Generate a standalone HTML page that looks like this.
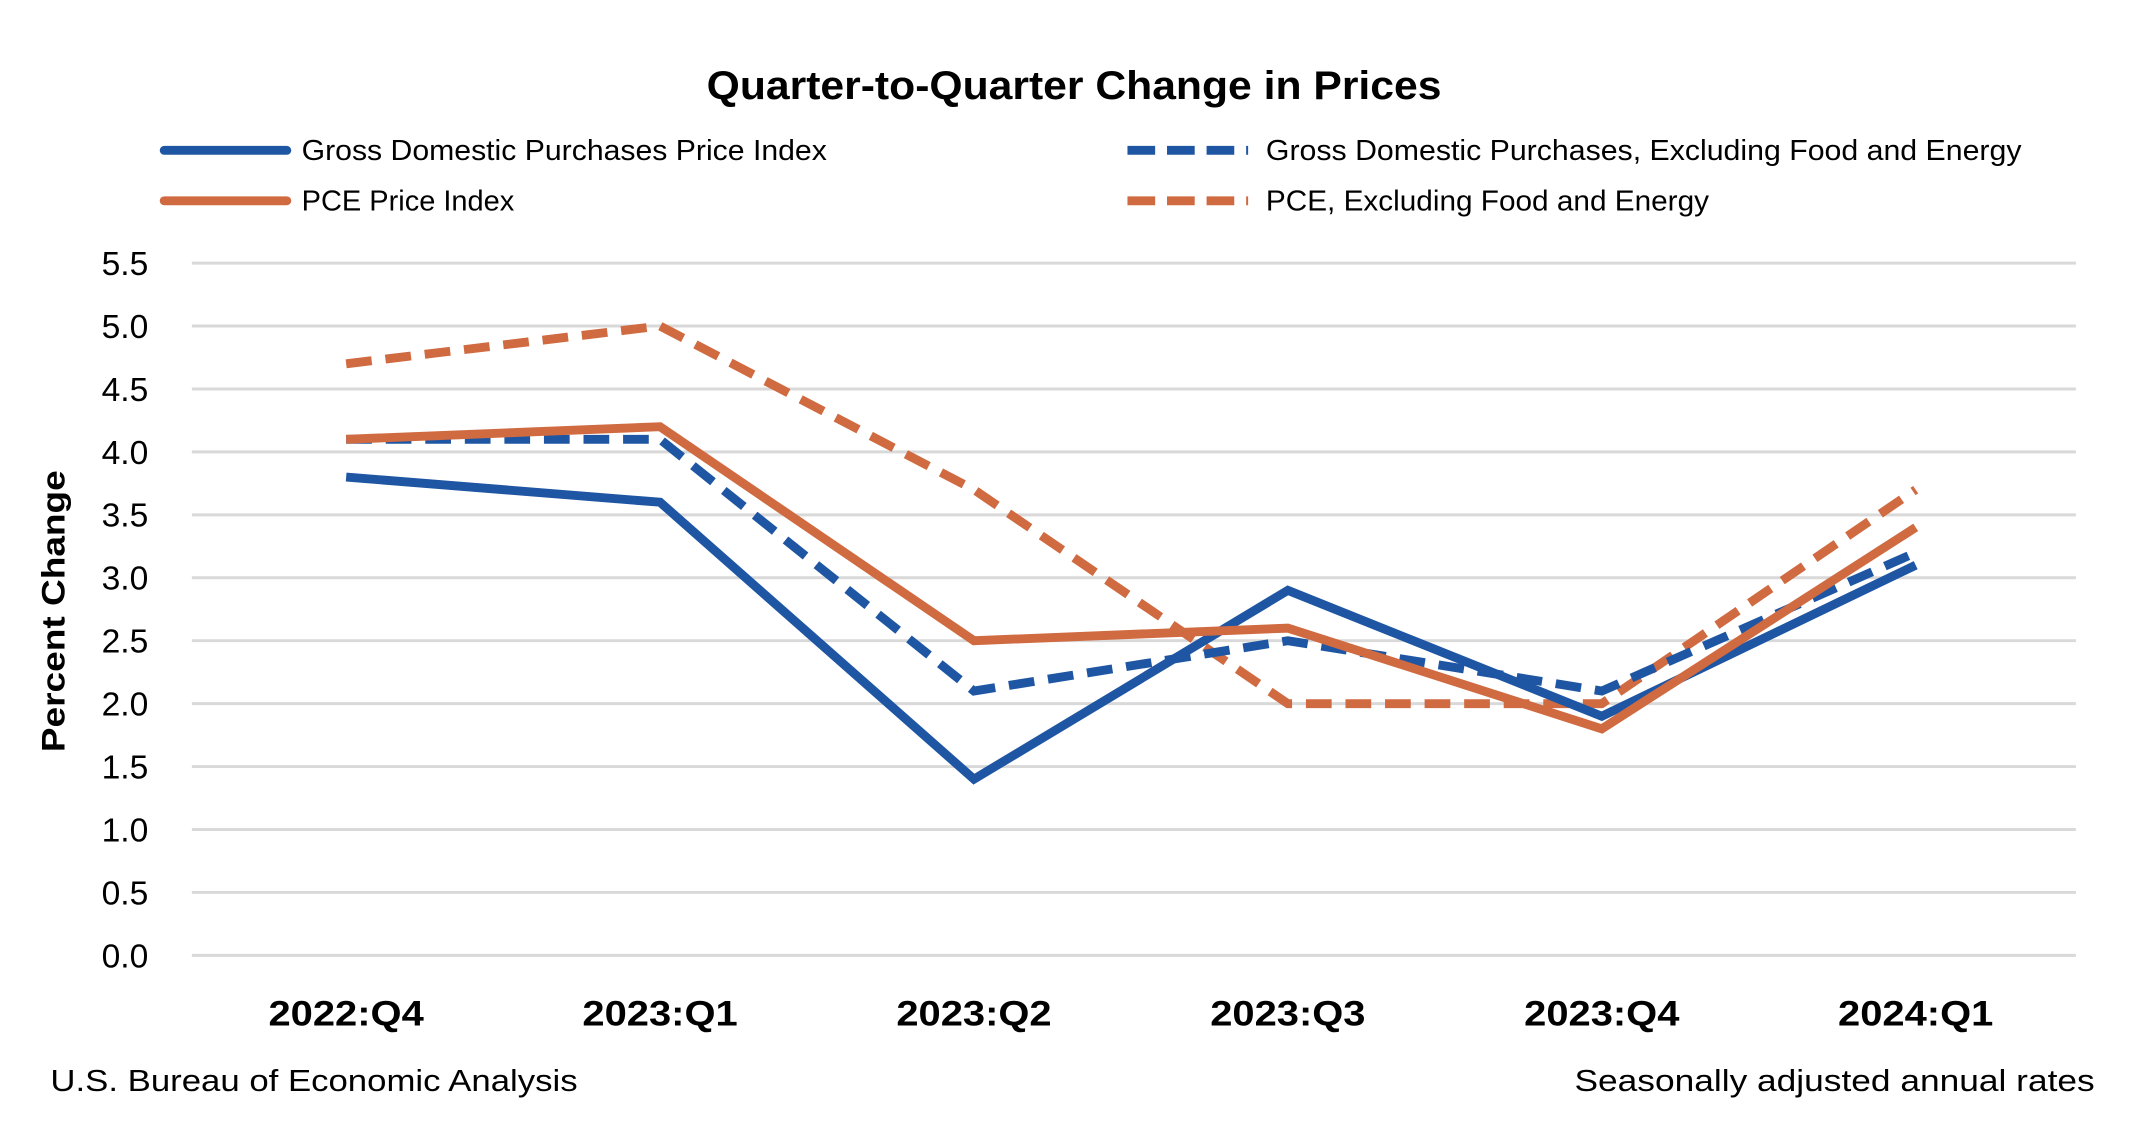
<!DOCTYPE html>
<html><head><meta charset="utf-8"><style>
html,body{margin:0;padding:0;background:#fff;}
svg{display:block;font-family:"Liberation Sans",sans-serif;}
</style></head><body>
<svg id="chart" width="2150" height="1130" viewBox="0 0 2150 1130">
<g transform="translate(0,1) scale(0.989)">
<text x="1086" y="99" text-anchor="middle" font-size="40" font-weight="bold" textLength="743" lengthAdjust="spacingAndGlyphs">Quarter-to-Quarter Change in Prices</text>
<g>
<g><line x1="166" y1="151" x2="290" y2="151" stroke="#1f56a3" stroke-width="9" stroke-linecap="round"/><text x="305" y="161" font-size="29" textLength="531" lengthAdjust="spacingAndGlyphs">Gross Domestic Purchases Price Index</text></g>
<g><line x1="166" y1="202" x2="290" y2="202" stroke="#d06a40" stroke-width="9" stroke-linecap="round"/><text x="305" y="212" font-size="29" textLength="215" lengthAdjust="spacingAndGlyphs">PCE Price Index</text></g>
<g><line x1="1140" y1="151" x2="1262" y2="151" stroke="#1f56a3" stroke-width="9" stroke-dasharray="28 12"/><text x="1280" y="161" font-size="29" textLength="764" lengthAdjust="spacingAndGlyphs">Gross Domestic Purchases, Excluding Food and Energy</text></g>
<g><line x1="1140" y1="202" x2="1262" y2="202" stroke="#d06a40" stroke-width="9" stroke-dasharray="28 12"/><text x="1280" y="212" font-size="29" textLength="448" lengthAdjust="spacingAndGlyphs">PCE, Excluding Food and Energy</text></g>
</g>
<g id="grid"></g><g id="yticks"></g><g id="xticks"></g><g id="series"></g>
<text transform="translate(65,617) rotate(-90)" text-anchor="middle" font-size="33" font-weight="bold" textLength="285" lengthAdjust="spacingAndGlyphs">Percent Change</text>
<text x="51" y="1102" font-size="31" textLength="533" lengthAdjust="spacingAndGlyphs">U.S. Bureau of Economic Analysis</text>
<text x="2118" y="1102" text-anchor="end" font-size="31" textLength="526" lengthAdjust="spacingAndGlyphs">Seasonally adjusted annual rates</text>
</g>
</svg>
<script>
const categories = ["2022:Q4","2023:Q1","2023:Q2","2023:Q3","2023:Q4","2024:Q1"];
const gdpPrice = [3.8, 3.6, 1.4, 2.9, 1.9, 3.1];
const gdpExFoodEnergy = [4.1, 4.1, 2.1, 2.5, 2.1, 3.2];
const pcePrice = [4.1, 4.2, 2.5, 2.6, 1.8, 3.4];
const pceExFoodEnergy = [4.7, 5.0, 3.7, 2.0, 2.0, 3.7];
const yTicks = ["0.0","0.5","1.0","1.5","2.0","2.5","3.0","3.5","4.0","4.5","5.0","5.5"];

const NS = "http://www.w3.org/2000/svg";
const plotL = 194, plotR = 2099, yTop = 265, yBot = 965, yMax = 5.5;
function yScale(v){ return yBot - (v / yMax) * (yBot - yTop); }
function xScale(i){ return 350 + i * 317.4; }
function mk(tag, attrs, parent){ const e = document.createElementNS(NS, tag); for (const k in attrs) e.setAttribute(k, attrs[k]); parent.appendChild(e); return e; }

const grid = document.getElementById('grid');
const yt = document.getElementById('yticks');
yTicks.forEach(t => {
  const v = parseFloat(t), y = yScale(v);
  const l = mk('line', {x1: plotL, x2: plotR, y1: y, y2: y, stroke: '#d9d9d9', 'stroke-width': 3}, grid);
  
  
  const tx = mk('text', {x: 150, y: y + 12, 'text-anchor': 'end', 'font-size': 34}, yt);
  tx.textContent = t;
  
  
});
const xt = document.getElementById('xticks');
categories.forEach((c, i) => {
  const tx = mk('text', {x: xScale(i), y: 1036, 'text-anchor': 'middle', 'font-size': 36, 'font-weight': 'bold', textLength: 157, lengthAdjust: 'spacingAndGlyphs'}, xt);
  tx.textContent = c;
  
  
});
const series = [
  {name: 'pce-ex-food-energy-line', vals: pceExFoodEnergy, color: '#d06a40', dash: '26 14'},
  {name: 'gdp-price-line', vals: gdpPrice, color: '#1f56a3', dash: null},
  {name: 'gdp-ex-food-energy-line', vals: gdpExFoodEnergy, color: '#1f56a3', dash: '26 14'},
  {name: 'pce-price-line', vals: pcePrice, color: '#d06a40', dash: null}
];
const sg = document.getElementById('series');
series.forEach(s => {
  const pts = s.vals.map((v, i) => xScale(i) + ',' + yScale(v)).join(' ');
  const a = {points: pts, fill: 'none', stroke: s.color, 'stroke-width': 9, 'stroke-linejoin': 'miter'};
  if (s.dash) a['stroke-dasharray'] = s.dash;
  const p = mk('polyline', a, sg);
  
  
});
</script>
</body></html>
